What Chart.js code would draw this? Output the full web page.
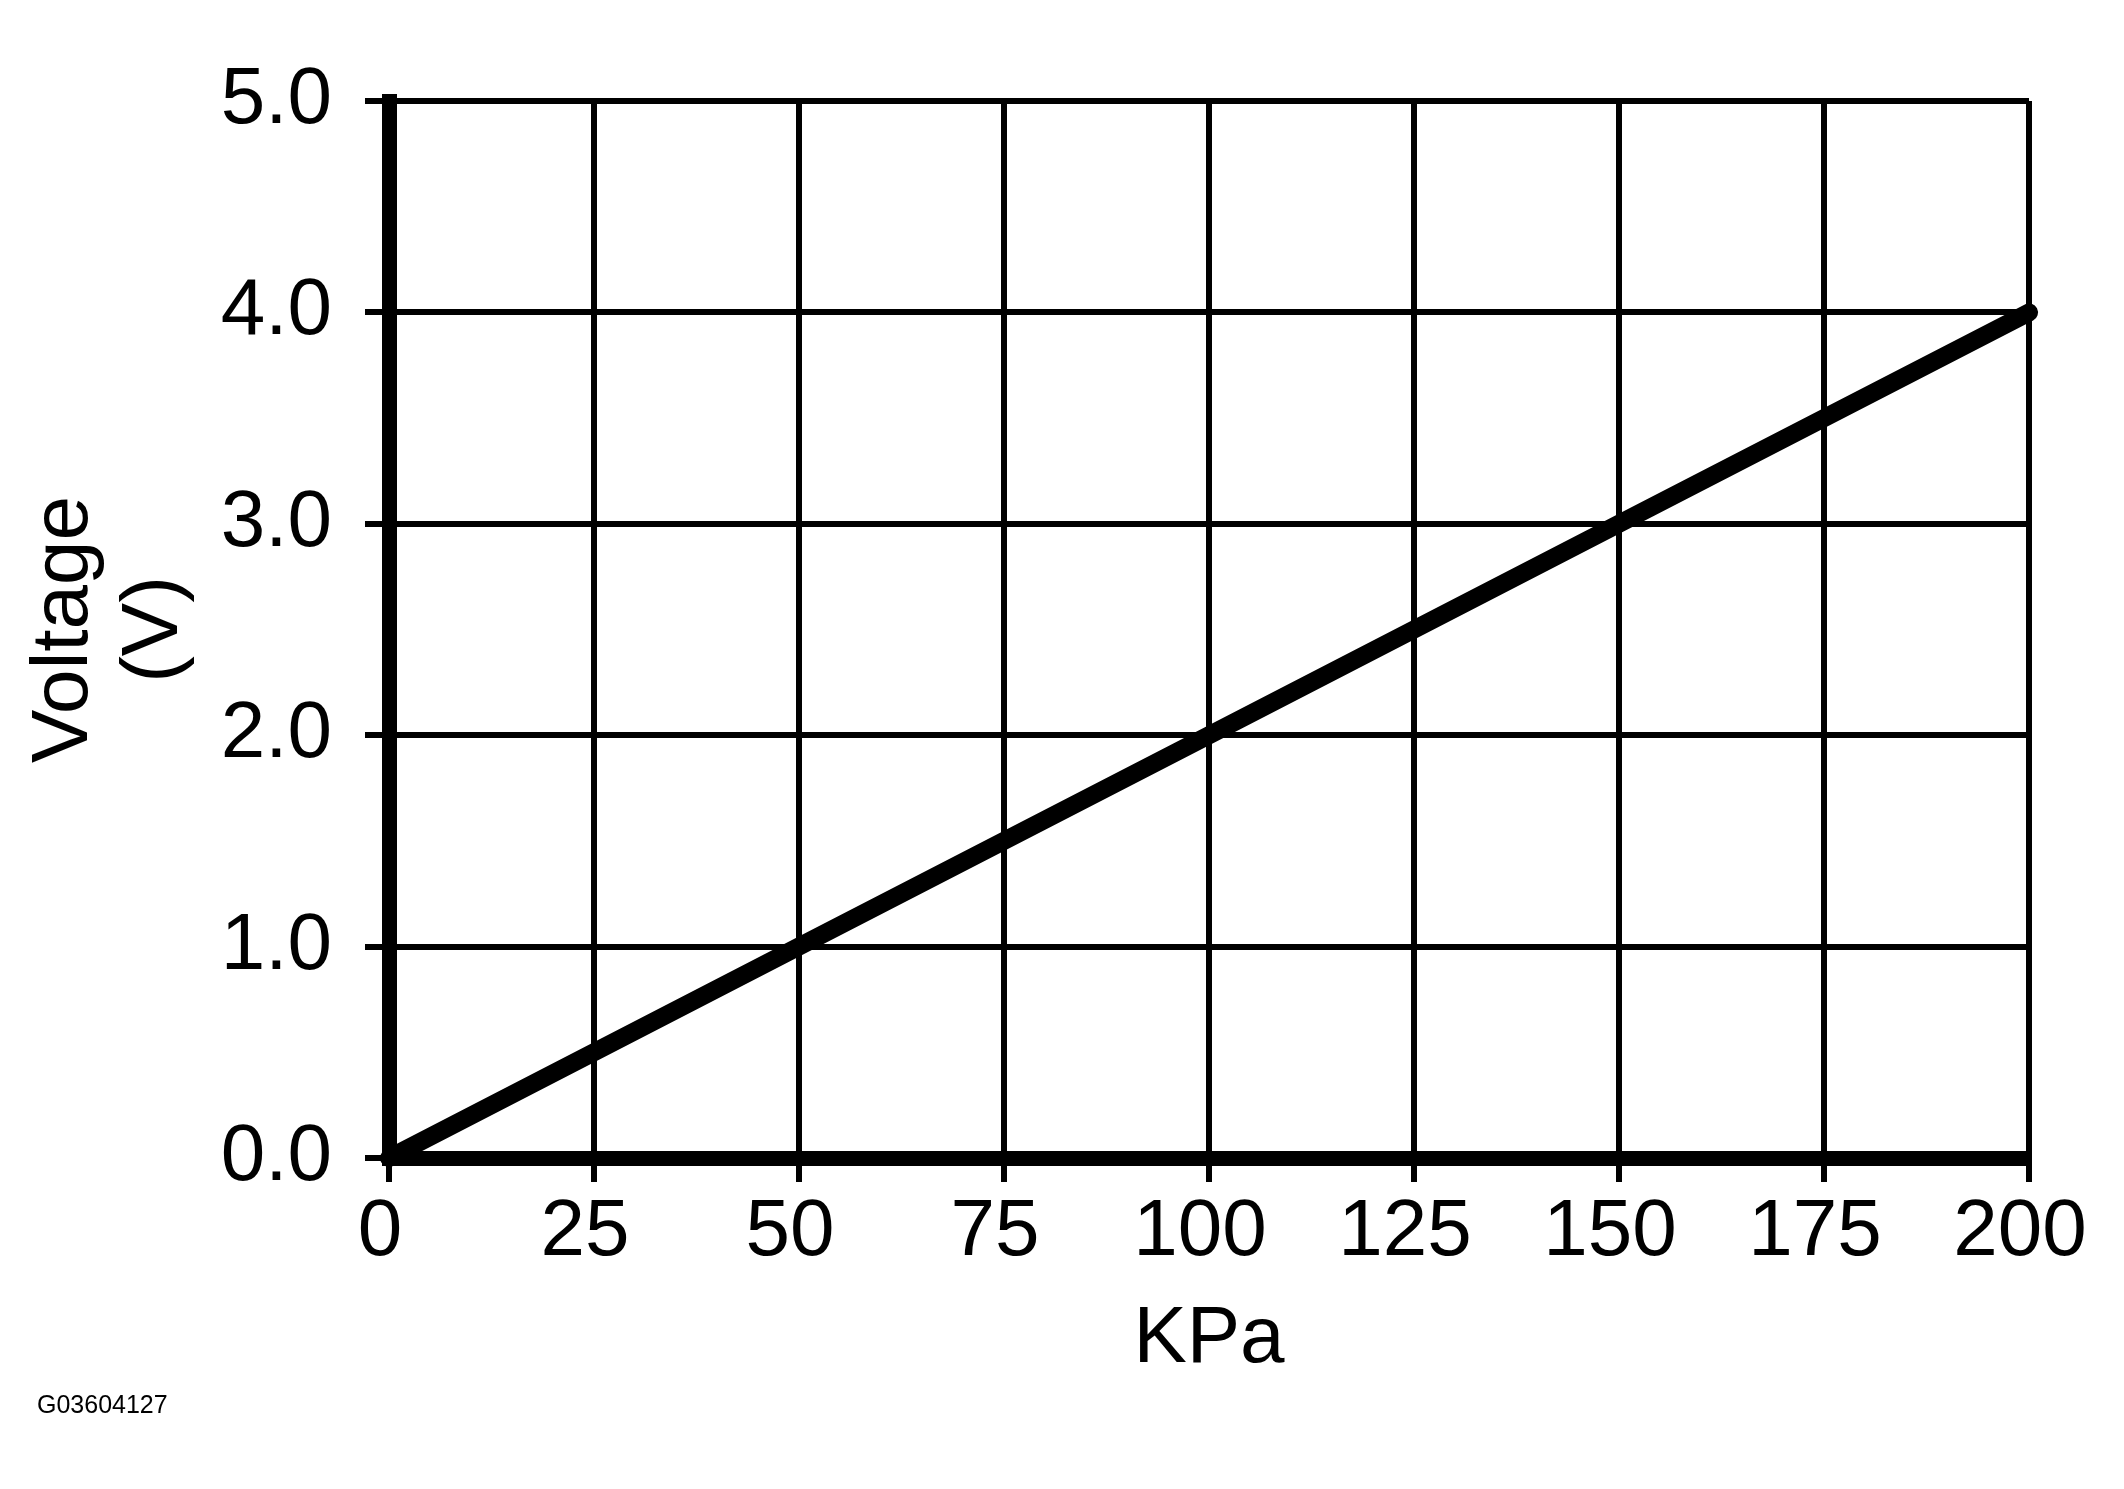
<!DOCTYPE html>
<html>
<head>
<meta charset="utf-8">
<script src="https://cdn.jsdelivr.net/npm/chart.js"></script>
<style>
  html, body {
    margin: 0;
    padding: 0;
    background: #fff;
  }
  #wrap {
    position: relative;
    width: 2124px;
    height: 1489px;
  }
  #code {
    position: absolute;
    left: 37px;
    top: 1392px;
    font-family: "Liberation Sans", Arial, sans-serif;
    font-size: 25px;
    line-height: 25px;
    color: #000;
  }
</style>
</head>
<body>
<div id="wrap">
  <canvas id="myChart" width="2124" height="1489"></canvas>
  <div id="code">G03604127</div>
</div>
<script>
// values
const kpaValues = [0, 50, 100, 150, 200];
const voltageValues = [0.0, 1.0, 2.0, 3.0, 4.0];
const kpaTicks = [0, 25, 50, 75, 100, 125, 150, 175, 200];
const voltTicks = [0, 1, 2, 3, 4, 5];

const FONT = '"Liberation Sans", Arial, sans-serif';

const ctx = document.getElementById('myChart');

new Chart(ctx, {
  type: 'line',
  data: {
    datasets: [
      {
        label: 'Voltage',
        data: kpaValues.map((k, i) => ({x: k, y: voltageValues[i]})),
        borderColor: '#000',
        borderWidth: 18,
        borderCapStyle: 'round',
        borderJoinStyle: 'round',
        pointRadius: 0,
        tension: 0,
        clip: false,
      },
    ],
  },
  options: {
    responsive: false,
    devicePixelRatio: 1,
    animation: false,
    events: [],
    layout: {
      padding: {top: 101, right: 95, bottom: 0, left: 0},
    },
    plugins: {
      legend: {display: false},
      tooltip: {enabled: false},
    },
    scales: {
      x: {
        type: 'linear',
        min: kpaTicks[0],
        max: kpaTicks[kpaTicks.length - 1],
        afterBuildTicks: axis => {
          axis.ticks = kpaTicks.map(v => ({value: v}));
        },
        afterFit: axis => {
          axis.height = 331;
        },
        grid: {
          color: '#000',
          lineWidth: 6,
          tickLength: 24,
          tickColor: '#000',
          tickWidth: 6,
        },
        border: {color: '#000', width: 15},
        ticks: {
          color: '#000',
          padding: 3,
          labelOffset: -9,
          maxRotation: 0,
          font: {family: FONT, size: 80, lineHeight: 1.2},
        },
        title: {
          display: true,
          text: 'KPa',
          color: '#000',
          font: {family: FONT, size: 80, lineHeight: 1.2},
          padding: {top: 0, bottom: 101},
        },
      },
      y: {
        type: 'linear',
        min: voltTicks[0],
        max: voltTicks[voltTicks.length - 1],
        afterBuildTicks: axis => {
          axis.ticks = voltTicks.map(v => ({value: v}));
        },
        afterFit: axis => {
          axis.width = 389;
        },
        grid: {
          color: '#000',
          lineWidth: 6,
          tickLength: 24,
          tickColor: '#000',
          tickWidth: 6,
        },
        border: {color: '#000', width: 15},
        ticks: {
          color: '#000',
          padding: 33,
          callback: v => v.toFixed(1),
          font: {family: FONT, size: 80, lineHeight: 1.2},
        },
        title: {
          display: true,
          text: ['Voltage', '(V)'],
          color: '#000',
          font: {family: FONT, size: 80, lineHeight: 1.125},
          padding: {top: 20, bottom: 0},
        },
      },
    },
  },
});
</script>
</body>
</html>
